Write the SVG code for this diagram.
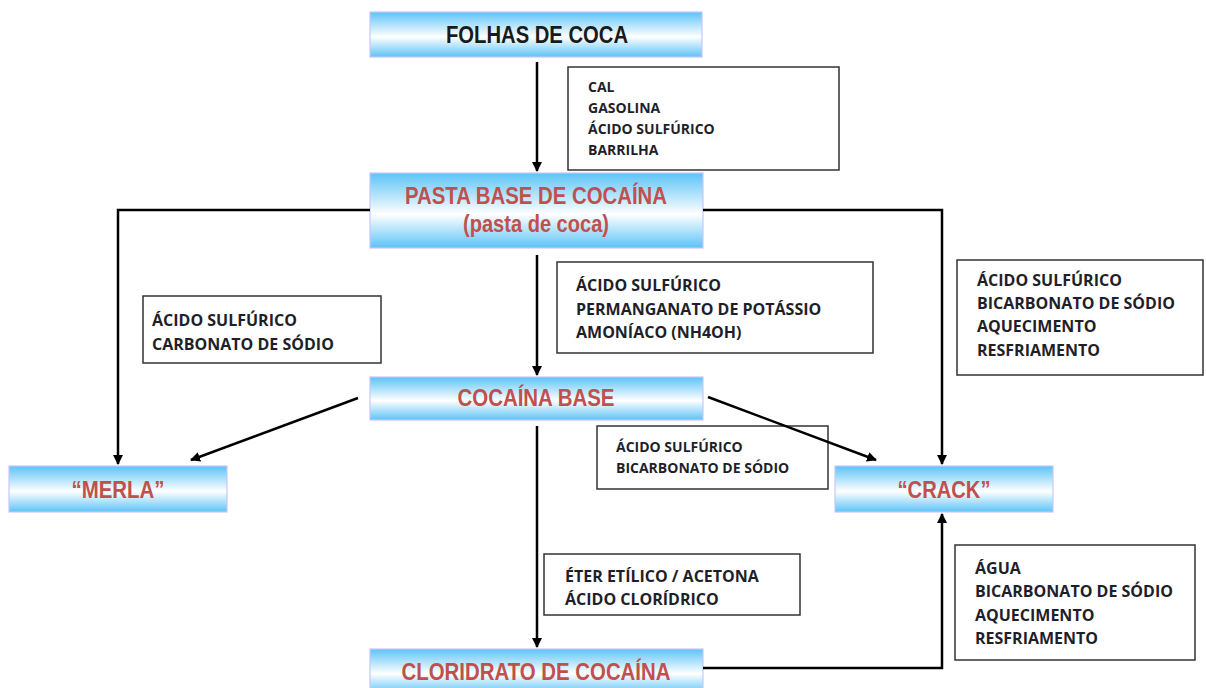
<svg xmlns="http://www.w3.org/2000/svg" width="1206" height="688" viewBox="0 0 1206 688">
<defs>
<linearGradient id="g" x1="0" y1="0" x2="0" y2="1">
<stop offset="0" stop-color="#5cc3f7"/>
<stop offset="0.55" stop-color="#ffffff"/>
<stop offset="1" stop-color="#5cc3f7"/>
</linearGradient>
<marker id="ah" markerWidth="10" markerHeight="10" refX="9" refY="5" orient="auto" markerUnits="userSpaceOnUse">
<path d="M0,0 L10,5 L0,10 Z" fill="#000"/>
</marker>
</defs>
<style>
.node{fill:url(#g);stroke:#c6c6ff;stroke-width:1.2}
.t{font-family:"Liberation Sans",Arial,sans-serif;font-weight:bold;font-size:24px;text-anchor:middle}
.dark{fill:#1a1a1a}
.red{fill:#c0504d}
.box{fill:#fff;stroke:#333;stroke-width:1.5}
.b{font-family:"Open Sans","Noto Sans",sans-serif;font-weight:700;fill:#1f1f2a}
.s15{font-size:16px}
.s13{font-size:14px}
.c{fill:none;stroke:#000;stroke-width:2.5}
</style>
<rect width="1206" height="688" fill="#fff"/>

<g id="n-folhas">
<rect class="node" x="370" y="12" width="332" height="45"/>
<text class="t dark" x="537" y="43" textLength="182" lengthAdjust="spacingAndGlyphs">FOLHAS DE COCA</text>
</g>
<g id="n-pasta">
<rect class="node" x="370" y="173" width="333" height="75"/>
<text class="t red" x="536" y="204" textLength="262" lengthAdjust="spacingAndGlyphs">PASTA BASE DE COCAÍNA</text>
<text class="t red" x="536" y="232" textLength="146" lengthAdjust="spacingAndGlyphs">(pasta de coca)</text>
</g>
<g id="n-cocaina">
<rect class="node" x="370" y="377" width="333" height="43"/>
<text class="t red" x="536" y="406" textLength="157" lengthAdjust="spacingAndGlyphs">COCAÍNA BASE</text>
</g>
<g id="n-merla">
<rect class="node" x="9" y="466" width="218" height="46"/>
<text class="t red" x="118" y="498" textLength="93" lengthAdjust="spacingAndGlyphs">“MERLA”</text>
</g>
<g id="n-crack">
<rect class="node" x="835" y="466" width="218" height="46"/>
<text class="t red" x="944" y="498" textLength="93" lengthAdjust="spacingAndGlyphs">“CRACK”</text>
</g>
<g id="n-cloridrato">
<rect class="node" x="370" y="649" width="333" height="45"/>
<text class="t red" x="536" y="680" textLength="269" lengthAdjust="spacingAndGlyphs">CLORIDRATO DE COCAÍNA</text>
</g>

<g id="box-cal">
<rect class="box" x="568" y="67" width="271" height="103"/>
<text class="b s13" x="588" y="92">CAL</text>
<text class="b s13" x="588" y="113">GASOLINA</text>
<text class="b s13" x="588" y="134">ÁCIDO SULFÚRICO</text>
<text class="b s13" x="588" y="155">BARRILHA</text>
</g>
<g id="box-permanganato">
<rect class="box" x="557" y="262" width="316" height="91"/>
<text class="b s15" x="576" y="291">ÁCIDO SULFÚRICO</text>
<text class="b s15" x="576" y="315">PERMANGANATO DE POTÁSSIO</text>
<text class="b s15" x="576" y="338">AMONÍACO (NH4OH)</text>
</g>
<g id="box-carbonato">
<rect class="box" x="143" y="296" width="238" height="67"/>
<text class="b s15" x="152" y="326">ÁCIDO SULFÚRICO</text>
<text class="b s15" x="152" y="350">CARBONATO DE SÓDIO</text>
</g>
<g id="box-right">
<rect class="box" x="957" y="260" width="246" height="115"/>
<text class="b s15" x="977" y="286">ÁCIDO SULFÚRICO</text>
<text class="b s15" x="977" y="309">BICARBONATO DE SÓDIO</text>
<text class="b s15" x="977" y="332">AQUECIMENTO</text>
<text class="b s15" x="977" y="356">RESFRIAMENTO</text>
</g>
<g id="box-bicarbonato">
<rect class="box" x="597" y="426" width="231" height="63"/>
<text class="b s13" x="616" y="452">ÁCIDO SULFÚRICO</text>
<text class="b s13" x="616" y="473">BICARBONATO DE SÓDIO</text>
</g>
<g id="box-eter">
<rect class="box" x="544" y="554" width="256" height="61"/>
<text class="b s15" x="565" y="582">ÉTER ETÍLICO / ACETONA</text>
<text class="b s15" x="565" y="605">ÁCIDO CLORÍDRICO</text>
</g>
<g id="box-agua">
<rect class="box" x="955" y="545" width="240" height="115"/>
<text class="b s15" x="975" y="574">ÁGUA</text>
<text class="b s15" x="975" y="597">BICARBONATO DE SÓDIO</text>
<text class="b s15" x="975" y="621">AQUECIMENTO</text>
<text class="b s15" x="975" y="644">RESFRIAMENTO</text>
</g>

<g id="connectors">
<path class="c" d="M537,62 V171" marker-end="url(#ah)"/>
<path class="c" d="M537,255 V375" marker-end="url(#ah)"/>
<path class="c" d="M370,210 H118 V464" marker-end="url(#ah)"/>
<path class="c" d="M703,210 H942 V464" marker-end="url(#ah)"/>
<path class="c" d="M358,398 L191,460" marker-end="url(#ah)"/>
<path class="c" d="M708,397 L876,460" marker-end="url(#ah)"/>
<path class="c" d="M537,426 V647" marker-end="url(#ah)"/>
<path class="c" d="M703,668 H942 V514" marker-end="url(#ah)"/>
</g>
</svg>
